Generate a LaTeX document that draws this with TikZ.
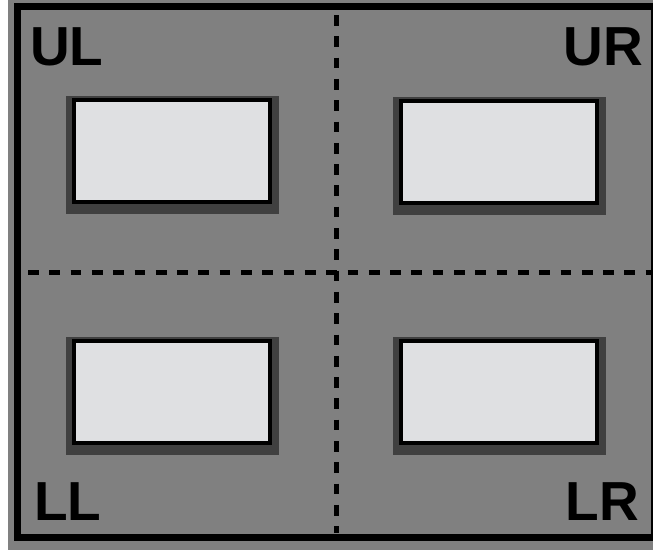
\documentclass[tikz,border=0pt]{standalone}
\usepackage{fontspec}
\setmainfont{Liberation Sans}
\definecolor{bggray}{HTML}{808080}
\definecolor{shadowgray}{HTML}{404040}
\definecolor{boxfill}{HTML}{DFE0E2}
\begin{document}
\begin{tikzpicture}[x=1pt,y=-1pt,
  panelbox/.style={draw=black, line width=4pt, fill=boxfill, rectangle,
    minimum width=196pt, minimum height=102pt, inner sep=0pt},
  corner/.style={inner sep=0pt, outer sep=0pt, font=\fontsize{55}{60}\selectfont\bfseries},
  divider/.style={line width=5pt, dash pattern=on 10.7pt off 10.6pt}]
\useasboundingbox (0,0) rectangle (653,550);
\fill[bggray] (8,0) rectangle (653,550);
\draw[line width=7pt] (17.5,6.5) rectangle (654,537);
% dividers
\coordinate (vt) at (336.7,15);
\coordinate (vb) at (336.7,533);
\coordinate (hl) at (28,272.5);
\coordinate (hr) at (653,272.5);
\draw[divider] (vt) -- (vb);
\draw[divider] (hl) -- (hr);
% boxes
\foreach \nm/\cx/\cy in {bul/171.7/151.3, bur/499.2/151.6, bll/172/392.2, blr/499.2/392.2}{
  \path (\cx,\cy) node[panelbox, fill=none, draw=none] (\nm) {};
  \fill[shadowgray] ([shift={(-6,-2)}]\nm.north west) rectangle ([shift={(7,10)}]\nm.south east);
  \node[panelbox] at (\cx,\cy) {};
}
% labels
\node[corner, anchor=base west] (ul) at (30,65) {UL};
\node[corner, anchor=base east] (ur) at (643,65) {UR};
\node[corner, anchor=base west] (ll) at (34,520) {LL};
\node[corner, anchor=base east] (lr) at (639,520) {LR};
\end{tikzpicture}
\end{document}
